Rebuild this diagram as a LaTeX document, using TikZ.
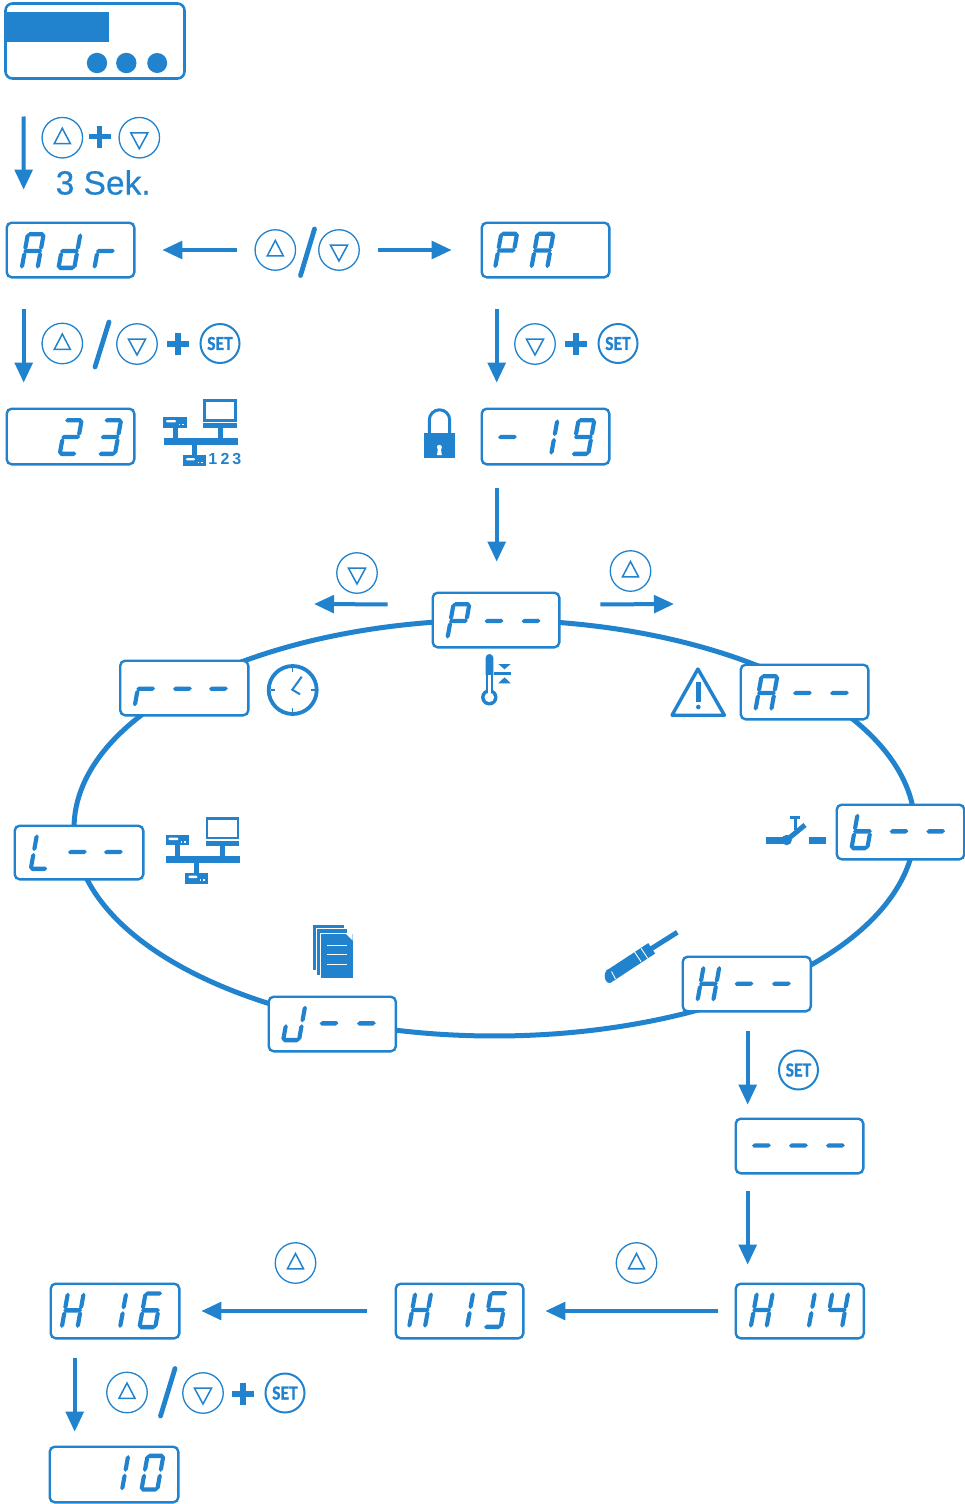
\documentclass[tikz,border=0pt]{standalone}
\usepackage{fontspec}
\setmainfont{Liberation Sans}
\newfontfamily\setfont{Carlito}[BoldFeatures={FakeBold=0.6}]
\newfontfamily\sekfont{Liberation Sans}[FakeBold=0.35]
\usetikzlibrary{arrows.meta,calc,shapes.geometric}
\definecolor{bl}{HTML}{2183CD}
\tikzset{
  disp/.style={draw=bl,fill=white,line width=2.4pt,rounded corners=5pt,inner sep=0pt,outer sep=0pt},
  keyc/.style={circle,draw=bl,fill=white,line width=1.3pt,minimum size=40.5pt,inner sep=0pt,outer sep=0pt},
  setkey/.style={circle,draw=bl,fill=white,line width=2pt,minimum size=39pt,inner sep=0pt,outer sep=0pt,text=bl,font=\setfont\bfseries\fontsize{20}{20}\selectfont},
  tri/.style={draw=bl,line width=1.5pt,line join=miter},
  arr/.style={draw=bl,line width=4pt,-{Triangle[length=20pt,width=17.5pt]}},
  slashl/.style={draw=bl,line width=4.8pt,line cap=round},
  ringl/.style={draw=bl,line width=5pt},
  lbl/.style={text=bl,inner sep=0pt},
}
% seven segments (local: x right, y up)
\newcommand\hs[3]{\fill[bl] (#1,#3)--(#1+2.2,#3+2.2)--(#2-2.2,#3+2.2)--(#2,#3)--(#2-2.2,#3-2.2)--(#1+2.2,#3-2.2)--cycle;}
\newcommand\vs[3]{\fill[bl] (#1,#2)--(#1+2.1,#2+2.2)--(#1+2.1,#3-2.2)--(#1,#3)--(#1-2.1,#3-2.2)--(#1-2.1,#2+2.2)--cycle;}
\newcommand\sega{\hs{1.4}{18.6}{35.8}}
\newcommand\segb{\vs{17.9}{19.9}{36.6}}
\newcommand\segc{\vs{17.9}{1.4}{18.1}}
\newcommand\segd{\hs{1.4}{18.6}{2.2}}
\newcommand\sege{\vs{2.1}{1.4}{18.1}}
\newcommand\segf{\vs{2.1}{19.9}{36.6}}
\newcommand\segg{\hs{.6}{19.4}{19}}
\newcommand\dg[3]{\begin{scope}[shift={(#1,#2)},x=1pt,y={(.18pt,1pt)}]\foreach \s in {#3}{\csname seg\s\endcsname}\end{scope}}
\newcommand\dispbox[5]{\node[disp,minimum width={(#4-#2-1.4)*1pt},minimum height={(#5-#3-1.4)*1pt}] (#1) at ({(#2+#4)/2},{(#3+#5)/2}) {};}
% keys
\newcommand\upkey[3]{\node[keyc] (#1) at (#2,#3) {};\draw[tri] (#2-8,#3+5.8)--(#2+8,#3+5.8)--(#2,#3-9.5)--cycle;}
\newcommand\dnkey[3]{\node[keyc] (#1) at (#2,#3) {};\draw[tri] (#2-8.5,#3-4.8)--(#2+8.5,#3-4.8)--(#2,#3+11)--cycle;}
\newcommand\setk[3]{\node[setkey] (#1) at (#2,#3) {\scalebox{.88}[1]{SET}};}
\newcommand\plusm[2]{\fill[bl] (#1-11,#2-2.7) rectangle (#1+11,#2+2.7);\fill[bl] (#1-2.7,#2-11) rectangle (#1+2.7,#2+11);}
% network icon
\newcommand\neticon[2]{\begin{scope}[shift={(#1,#2)}]
 \draw[bl,line width=2.6pt] (204.6,400.6) rectangle (235.4,420.4);
 \fill[bl] (203.3,423.3) rectangle (236.7,428.3);
 \fill[bl] (217.7,428) rectangle (223,439);
 \fill[bl] (164,438.3) rectangle (238,445);
 \fill[bl] (163.3,417.3) rectangle (186.7,427.7);
 \fill[white,rounded corners=1pt] (166,420) rectangle (176,422.4);
 \fill[white] (178.5,423.5) rectangle (180,425);\fill[white] (182,423.5) rectangle (183.5,425);
 \fill[bl] (172.7,427.7) rectangle (177.7,439);
 \fill[bl] (191.7,445) rectangle (196.7,456);
 \fill[bl] (182.7,455.3) rectangle (206,466);
 \fill[white,rounded corners=1pt] (186,458) rectangle (195,460.4);
 \fill[white] (197.5,461.5) rectangle (199,463);\fill[white] (201,461.5) rectangle (202.5,463);
\end{scope}}
\begin{document}
\begin{tikzpicture}[x=1pt,y=-1pt]
\useasboundingbox (0,0) rectangle (965,1504);
\fill[white] (0,0) rectangle (965,1504);
% ring: ellipse pieces between points hidden under the displays
\def\cx{494.5}\def\cy{828}\def\rx{420.5}\def\ry{208}
\newcommand\ringpt[2]{\coordinate (#1) at ({\cx+\rx*cos(#2)},{\cy+\ry*sin(#2)});}
\newcommand\ringseg[4]{% from,to,t1,t2
 \pgfmathsetmacro\kk{4/3*tan((#4-#3)/4)}
 \draw[ringl] (#1) .. controls ({\cx+\rx*(cos(#3)-\kk*sin(#3))},{\cy+\ry*(sin(#3)+\kk*cos(#3))}) and ({\cx+\rx*(cos(#4)+\kk*sin(#4))},{\cy+\ry*(sin(#4)-\kk*cos(#4))}) .. (#2);}
\ringpt{rp}{-90}\ringpt{ra}{-42.5}\ringpt{rb}{0.5}\ringpt{rh}{53.3}\ringpt{rj}{112.7}\ringpt{rl}{173.4}\ringpt{rr}{222.6}
\ringseg{rp}{ra}{-90}{-42.5}
\ringseg{ra}{rb}{-42.5}{0.5}
\ringseg{rb}{rh}{0.5}{53.3}
\ringseg{rh}{rj}{53.3}{112.7}
\ringseg{rj}{rl}{112.7}{173.4}
\ringseg{rl}{rr}{173.4}{222.6}
\ringseg{rr}{rp}{222.6}{270}
% device
\node[draw=bl,fill=white,line width=2.6pt,rounded corners=7pt,minimum width=179pt,minimum height=75pt,inner sep=0pt,outer sep=0pt] (dev) at (95,41) {};
\fill[bl] (5,12) rectangle (109,42);
\fill[bl] (97,63) circle (10.2);
\fill[bl] (126.3,63) circle (10.2);
\fill[bl] (157.2,63) circle (10);
% displays
\dispbox{adr}{6}{222}{135}{278}
\dispbox{pa}{481}{222}{610}{278}
\dispbox{d23}{6}{408}{135}{465}
\dispbox{m19}{481}{408}{610}{465}
\dispbox{p}{432}{592}{560}{648}
\dispbox{r}{119.5}{660}{249}{716}
\dispbox{a}{740}{664}{869}{720}
\dispbox{l}{14}{825}{144}{880}
\dispbox{b}{836}{804}{965}{860}
\dispbox{h}{682}{956}{811.5}{1012}
\dispbox{j}{268}{996}{396.5}{1052}
\dispbox{dash}{735}{1118}{864}{1174}
\dispbox{h14}{735}{1283}{864.5}{1339}
\dispbox{h15}{395}{1283}{524}{1339}
\dispbox{h16}{50}{1283}{180}{1339}
\dispbox{d10}{49}{1446}{179}{1503}
% digits
\dg{19.3}{270}{a,b,c,e,f,g}\dg{56}{270}{b,c,d,e,g}\dg{92}{270}{e,g}
\dg{492.7}{269.5}{a,b,e,f,g}\dg{529}{269.5}{a,b,c,e,f,g}
\dg{57.3}{456}{a,b,d,e,g}\dg{96.7}{456}{a,b,c,d,g}
\dg{494}{456}{g}\dg{533}{456}{b,c}\dg{570}{456}{a,b,c,d,f,g}
\dg{445}{640}{a,b,e,f,g}\dg{480.6}{640}{g}\dg{517.6}{640}{g}
\dg{132.3}{707.7}{e,g}\dg{169}{707.7}{g}\dg{205}{707.7}{g}
\dg{753}{712}{a,b,c,e,f,g}\dg{789}{712}{g}\dg{826}{712}{g}
\dg{28.3}{871}{d,e,f}\dg{64}{871}{g}\dg{100}{871}{g}
\dg{849}{850.3}{c,d,e,f,g}\dg{885.6}{850.3}{g}\dg{922.3}{850.3}{g}
\dg{695}{1002.7}{b,c,e,f,g}\dg{730.6}{1002.7}{g}\dg{768}{1002.7}{g}
\dg{280.7}{1042.3}{b,c,d,e}\dg{315.6}{1042.3}{g}\dg{353}{1042.3}{g}
\dg{748}{1164.5}{g}\dg{785}{1164.5}{g}\dg{822}{1164.5}{g}
\dg{748.3}{1329}{b,c,e,f,g}\dg{790.5}{1329}{b,c}\dg{823.8}{1329}{b,c,f,g}
\dg{406.7}{1329}{b,c,e,f,g}\dg{448.8}{1329}{b,c}\dg{482.3}{1329}{a,c,d,f,g}
\dg{59.3}{1329.3}{b,c,e,f,g}\dg{101.8}{1329.3}{b,c}\dg{137}{1329.3}{a,c,d,e,f,g}
\dg{103.8}{1491.7}{b,c}\dg{139}{1491.7}{a,b,c,d,e,f}
% keys and signs
\upkey{k1}{62.3}{137.7}\plusm{99.7}{136.7}\dnkey{k2}{139.3}{137.7}
\node[lbl,anchor=base west,font=\sekfont\fontsize{33.5}{33.5}\selectfont] (sek) at (55.5,194.5) {3 Sek.};
\upkey{k3}{275.3}{250}\dnkey{k4}{339}{250}
\draw[slashl] (314.5,229)--(300.5,275.5);
\upkey{k5}{62.3}{343.5}\dnkey{k6}{137}{344}
\draw[slashl] (109,322)--(95,367);
\plusm{178}{344}\setk{s1}{220}{343.5}
\dnkey{k7}{535}{344}\plusm{576}{344}\setk{s2}{618}{343.5}
\dnkey{k8}{357}{573}\upkey{k9}{630.5}{571}
\setk{s3}{798.5}{1070}
\upkey{k10}{295.5}{1263}\upkey{k11}{636.5}{1263}
\upkey{k12}{127}{1392.5}\dnkey{k13}{203}{1393}
\draw[slashl] (175,1368.5)--(160.5,1416);
\plusm{243}{1394}\setk{s4}{285}{1393}
% arrows
\draw[arr,shorten <=38pt,shorten >=33pt] ($(dev.south west)+(18,0)$) -- ($(adr.north west)+(17,0)$);
\draw[arr,shorten <=18pt,shorten >=28pt] (k3.west) -- (adr.east);
\draw[arr,shorten <=19pt,shorten >=30pt] (k4.east) -- (pa.west);
\draw[arr,shorten <=32pt,shorten >=26pt] ($(adr.south west)+(17,0)$) -- ($(d23.north west)+(17,0)$);
\draw[arr,shorten <=32pt,shorten >=26pt] ($(pa.south west)+(15,0)$) -- ($(m19.north west)+(15,0)$);
\draw[arr,shorten <=24pt,shorten >=31pt] ($(m19.south west)+(15,0)$) -- ($(p.north west)+(64,0)$);
\coordinate (pleft) at (314,604);\coordinate (pright) at (674,604);
\draw[arr,shorten <=45pt] ($(p.north west)+(0,12)$) -- (pleft);
\draw[arr,shorten <=41pt] ($(p.north east)+(0,12)$) -- (pright);
\draw[arr,shorten <=20pt,shorten >=14pt] ($(h.south west)+(65,0)$) -- ($(dash.north west)+(12,0)$);
\draw[arr,shorten <=18pt,shorten >=19pt] ($(dash.south west)+(12,0)$) -- ($(h14.north west)+(12,0)$);
\draw[arr,shorten <=18pt,shorten >=22pt] (h14.west) -- (h15.east);
\draw[arr,shorten <=29pt,shorten >=22pt] (h15.west) -- (h16.east);
\draw[arr,shorten <=20pt,shorten >=15pt] ($(h16.south west)+(24,0)$) -- ($(d10.north west)+(25,0)$);
% network icons
\neticon{0}{0}
\neticon{2.4}{417.7}
\node[lbl,font=\bfseries\fontsize{16}{16}\selectfont] (n1) at (212.7,458.5) {1};
\node[lbl,font=\bfseries\fontsize{16}{16}\selectfont] (n2) at (225,458.5) {2};
\node[lbl,font=\bfseries\fontsize{16}{16}\selectfont] (n3) at (236.7,458.5) {3};
% lock
\fill[bl] (424,433.3) rectangle (455,458.3);
\draw[bl,line width=3pt] (429.3,434) -- (429.3,420) arc[start angle=180,end angle=360,x radius=10.2,y radius=10.2] -- (449.7,434);
\fill[white] (439.4,447.3) circle (2.5);
\fill[white] (438,448) -- (440.8,448) -- (441.8,455) -- (437,455) -- cycle;
% clock
\draw[bl,line width=3.8pt] (292.7,690) circle (24);
\draw[bl,line width=1.5pt] (292.7,668)--(292.7,672) (292.7,708)--(292.7,712) (270.7,690)--(274.7,690) (310.7,690)--(314.7,690);
\draw[bl,line width=2pt] (301.7,676.7)--(292.3,689.7)--(300,694.3);
% thermometer
\fill[bl] (485.7,675) -- (485.7,657.8) arc[start angle=180,end angle=360,x radius=3.8,y radius=3.8] -- (493.3,675) -- cycle;
\fill[bl] (489.3,697.3) circle (8.2);
\fill[bl] (485.7,675) rectangle (493.3,692);
\fill[white] (489.3,697.3) circle (4.8);
\fill[white] (487.9,675) rectangle (491.1,694);
\fill[bl] (498.3,664)--(510.7,664)--(504.5,669.3)--cycle;
\fill[bl] (494,672.3) rectangle (510.7,675);
\fill[bl] (498.3,683.3)--(510.7,683.3)--(504.5,677.3)--cycle;
% warning
\draw[bl,line width=3.4pt,line join=round] (697.9,669)--(672,715.2)--(724.4,715.2)--cycle;
\fill[bl] (696,681.7) rectangle (700.7,701.7);
\fill[bl] (698.3,707) circle (2.3);
% switch
\fill[bl] (766,837.3) rectangle (784,844);
\fill[bl] (786.7,840) circle (5.2);
\draw[bl,line width=5pt] (786.7,840)--(805,825);
\fill[bl] (790,816) rectangle (800,819.3);
\fill[bl] (794,819) rectangle (796.8,830);
\fill[bl] (809.3,837.3) rectangle (826,844);
% sensor
\draw[bl,line width=12.5pt] (609.5,976) -- (651.7,948.3);
\fill[bl] (609.5,976) ellipse (4.8 and 7);
\draw[bl,line width=5pt] (650,949.5) -- (677.3,932.3);
\draw[white,line width=.9pt] (634.3,951.6)--(641.1,961.8);
\draw[white,line width=.9pt] (641,948.3)--(647.7,958.3);
\draw[white,line width=.9pt] (611.5,971.5)--(615.5,979);
% documents
\fill[bl] (313.3,925) rectangle (344,970);
\fill[white] (316,927.7) rectangle (346,972);
\fill[bl] (317.3,929) rectangle (347.3,975);
\fill[white] (320,933.3) rectangle (349,977);
\fill[bl] (321,934) rectangle (352.7,978.3);
\fill[white] (346,934) -- (352.7,934) -- (352.7,940.6) -- cycle;
\draw[white,line width=.9pt] (326.7,945)--(347.3,945) (326.7,954.3)--(347.3,954.3) (326.7,964.3)--(347.3,964.3);
\end{tikzpicture}
\end{document}
